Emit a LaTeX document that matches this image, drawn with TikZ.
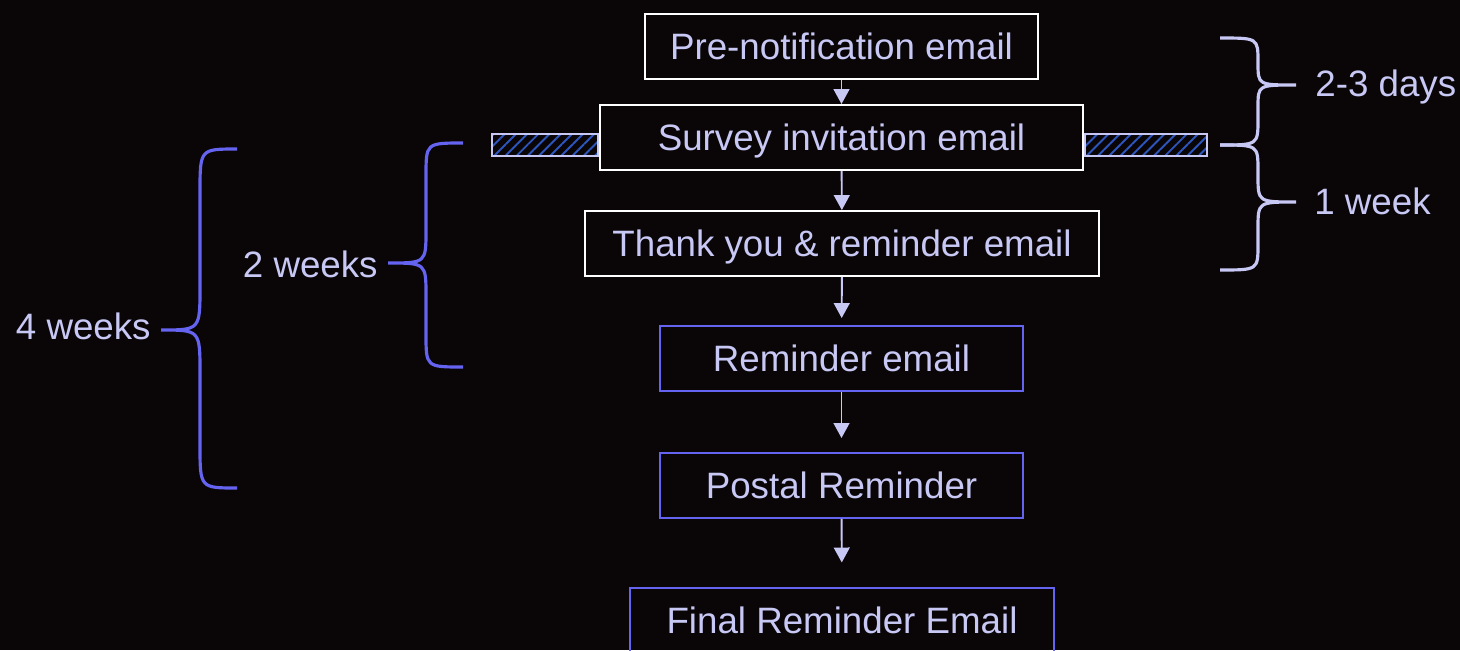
\documentclass[tikz,border=0pt]{standalone}
\usepackage{fontspec}
\setmainfont{Liberation Sans}
\usetikzlibrary{arrows.meta,positioning,patterns.meta}
\definecolor{bg}{RGB}{10,5,7}
\definecolor{lav}{RGB}{200,200,245}
\definecolor{blu}{RGB}{100,100,240}
\definecolor{hatch}{RGB}{45,85,190}

\begin{document}
\begin{tikzpicture}[x=0.02cm,y=-0.02cm,
  every node/.style={text=lav,font=\fontsize{20.9}{25}\selectfont,text height=15pt,text depth=0pt},
  wbox/.style={draw=white,line width=1.1pt,minimum height=1.3cm,inner sep=0pt},
  bbox/.style={draw=blu,line width=1.1pt,minimum height=1.3cm,inner sep=0pt},
  bar/.style={draw=lav,line width=1.1pt,minimum height=0.44cm,inner sep=0pt,text height=0pt,
    pattern={Lines[angle=45,distance=4.5pt,line width=1.1pt]},pattern color=hatch},
  arr/.style={draw=lav,line width=1.1pt,-{Triangle[length=8.5pt,width=9pt]}},
  lbl/.style={inner sep=0pt}]

\fill[bg] (0,0) rectangle (1460,650);
\useasboundingbox (0,0) rectangle (1460,650);

\node[wbox, minimum width=7.86cm] (pre) at (841.5,46.5) {Pre-notification email};
\node[wbox, minimum width=9.66cm] (inv) at (841.5,137.5) {Survey invitation email};
\node[wbox, minimum width=10.28cm] (thx) at (842,243.5) {Thank you \& reminder email};
\node[bbox, minimum width=7.26cm] (rem) at (841.5,358.5) {Reminder email};
\node[bbox, minimum width=7.26cm] (post) at (841.5,485.5) {Postal Reminder};
\node[bbox, minimum width=8.48cm] (fin) at (842,620.5) {Final Reminder Email};

\node[bar, minimum width=2.12cm, left=0pt of inv, yshift=-0.15cm] (barL) {};
\node[bar, minimum width=2.44cm, right=0pt of inv, yshift=-0.15cm] (barR) {};

\draw[arr] (pre) -- (inv);
\draw[arr] (inv) -- (thx);
\draw[arr, shorten >=4pt] (thx) -- (rem);
\draw[arr, shorten >=8pt] (rem) -- (post);
\draw[arr, shorten >=14pt] (post) -- (fin);

\node[lbl, anchor=west] (days) at (1315,83) {2-3 days};
\node[lbl, anchor=west] (week) at (1314,201) {1 week};
\node[lbl, anchor=east] (twoweeks) at (378,264) {2 weeks};
\node[lbl, anchor=east] (fourweeks) at (151,326) {4 weeks};

% braces
\draw[lav, line width=1.8pt] (1220,38) .. controls (1258,38) .. (1258,62) -- (1258,63)
  .. controls (1258,85) .. (1296,85) .. controls (1258,85) .. (1258,107) -- (1258,119)
  .. controls (1258,145) .. (1220,145);
\draw[lav, line width=1.8pt] (1220,145) .. controls (1258,145) .. (1258,171) -- (1258,176)
  .. controls (1258,202) .. (1296,202) .. controls (1258,202) .. (1258,228) -- (1258,244)
  .. controls (1258,270) .. (1220,270);
\draw[blu, line width=1.8pt] (463,143) .. controls (426,143) .. (426,176) -- (426,230)
  .. controls (426,263) .. (388,263) .. controls (426,263) .. (426,296) -- (426,334)
  .. controls (426,367) .. (463,367);
\draw[blu, line width=1.8pt] (237,149) .. controls (200,149) .. (200,192) -- (200,287)
  .. controls (200,330) .. (161,330) .. controls (200,330) .. (200,373) -- (200,445)
  .. controls (200,488) .. (237,488);

\end{tikzpicture}
\end{document}
